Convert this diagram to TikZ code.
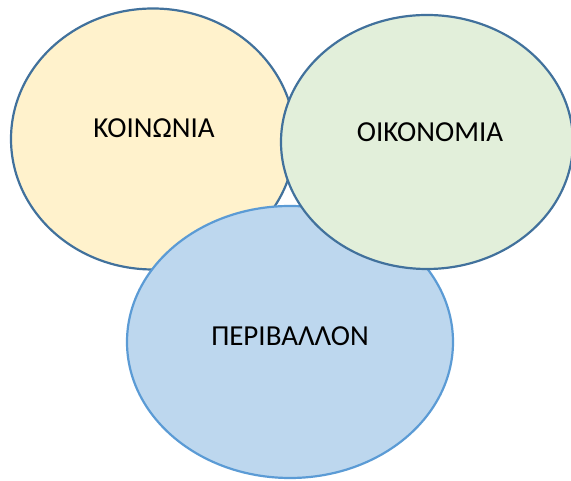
\documentclass[tikz,border=0pt]{standalone}
\usepackage{fontspec}
\setmainfont{Carlito}
\usetikzlibrary{shapes.geometric}
\definecolor{yel}{HTML}{FFF2CC}
\definecolor{grn}{HTML}{E2EFDA}
\definecolor{blu}{HTML}{BDD7EE}
\definecolor{dkline}{HTML}{41719C}
\definecolor{ltline}{HTML}{5B9BD5}
\tikzset{
  circ/.style={ellipse, draw, line width=2.2pt, inner sep=0pt},
  lbl/.style={font=\fontsize{29}{33}\selectfont, text=black, inner sep=0pt}
}
\begin{document}
\begin{tikzpicture}[x=1pt,y=1pt]
\useasboundingbox (0,0) rectangle (571,481);
\node[circ, fill=yel, draw=dkline, minimum width=284pt, minimum height=261pt] (soc) at (153,342) {};
\node[circ, fill=blu, draw=ltline, minimum width=326pt, minimum height=272pt] (env) at (290,139) {};
\node[circ, fill=grn, draw=dkline, minimum width=292pt, minimum height=254pt] (eco) at (427,339) {};
\node[lbl] (tsoc) at (154,353) {ΚΟΙΝΩΝΙΑ};
\node[lbl] (teco) at (430,349) {ΟΙΚΟΝΟΜΙΑ};
\node[lbl] (tenv) at (290,145) {ΠΕΡΙΒΑΛΛΟΝ};
\end{tikzpicture}
\end{document}
